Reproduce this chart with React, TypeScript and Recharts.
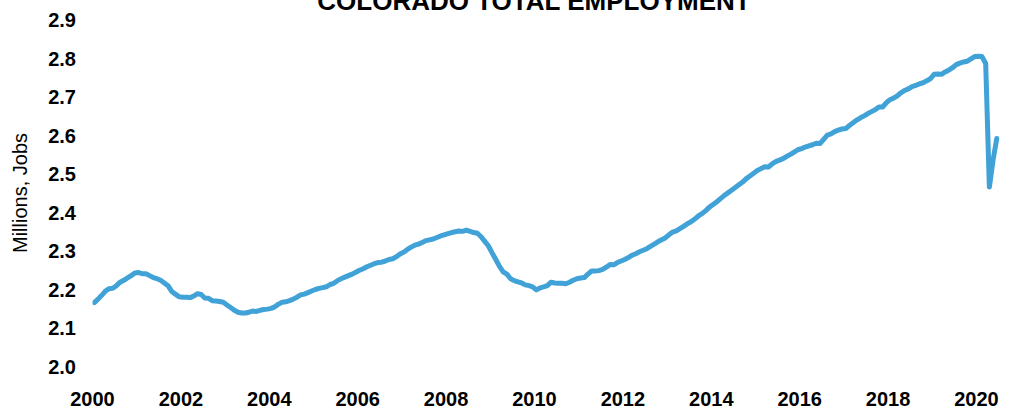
import { LineChart, Line, XAxis, YAxis } from "recharts"

// Colorado total nonfarm employment, millions, monthly Jan 2000 - Jun 2020
const employment = [
  // 2000
  2.166, 2.175, 2.185, 2.196, 2.202, 2.203, 2.21, 2.219, 2.224, 2.23, 2.236, 2.243,
  // 2001
  2.244, 2.241, 2.241, 2.236, 2.231, 2.228, 2.224, 2.217, 2.21, 2.195, 2.188, 2.181,
  // 2002
  2.18, 2.18, 2.179, 2.183, 2.189, 2.187, 2.178, 2.177, 2.171, 2.17, 2.169, 2.167,
  // 2003
  2.16, 2.153, 2.146, 2.141, 2.139, 2.139, 2.141, 2.144, 2.143, 2.146, 2.148, 2.149,
  // 2004
  2.151, 2.155, 2.162, 2.167, 2.168, 2.171, 2.175, 2.18, 2.186, 2.188, 2.192, 2.196,
  // 2005
  2.2, 2.203, 2.205, 2.207, 2.213, 2.216, 2.223, 2.228, 2.232, 2.236, 2.24, 2.245,
  // 2006
  2.25, 2.254, 2.259, 2.263, 2.267, 2.27, 2.271, 2.274, 2.278, 2.28, 2.285, 2.292,
  // 2007
  2.297, 2.304, 2.31, 2.315, 2.318, 2.322, 2.327, 2.329, 2.331, 2.335, 2.339, 2.342,
  // 2008
  2.345, 2.348, 2.35, 2.352, 2.351, 2.354, 2.351, 2.348, 2.346, 2.337, 2.325, 2.313,
  // 2009
  2.295, 2.278, 2.26, 2.246, 2.24, 2.228, 2.223, 2.22, 2.217, 2.212, 2.21, 2.207,
  // 2010
  2.199, 2.204, 2.207, 2.21, 2.219, 2.217, 2.216, 2.216, 2.215, 2.219, 2.224, 2.228,
  // 2011
  2.23, 2.231, 2.24, 2.248, 2.248, 2.249, 2.252, 2.258, 2.265, 2.264, 2.27, 2.274,
  // 2012
  2.278, 2.283, 2.289, 2.293, 2.298, 2.302, 2.306, 2.312, 2.318, 2.324, 2.329, 2.334,
  // 2013
  2.342, 2.349, 2.352, 2.358, 2.364, 2.371, 2.376, 2.383, 2.391, 2.397, 2.405, 2.414,
  // 2014
  2.421, 2.428, 2.436, 2.444, 2.451, 2.458, 2.465, 2.472, 2.479, 2.488, 2.495, 2.502,
  // 2015
  2.509, 2.514, 2.519, 2.518, 2.526, 2.532, 2.536, 2.54, 2.546, 2.551, 2.557, 2.563,
  // 2016
  2.566, 2.57, 2.573, 2.576, 2.58, 2.579, 2.59, 2.601, 2.604, 2.61, 2.614, 2.617,
  // 2017
  2.618, 2.626, 2.633, 2.64, 2.646, 2.651, 2.657, 2.662, 2.667, 2.674, 2.674, 2.685,
  // 2018
  2.693, 2.697, 2.703, 2.711, 2.717, 2.721, 2.727, 2.73, 2.734, 2.737, 2.742, 2.748,
  // 2019
  2.759, 2.76, 2.759, 2.765, 2.77, 2.776, 2.784, 2.788, 2.791, 2.793, 2.799, 2.805,
  // 2020
  2.806, 2.805, 2.787, 2.466, 2.536, 2.592,
]

const startYear = 2000
const yearTicks = [2000, 2002, 2004, 2006, 2008, 2010, 2012, 2014, 2016, 2018, 2020]
const valueTicks = [2.0, 2.1, 2.2, 2.3, 2.4, 2.5, 2.6, 2.7, 2.8, 2.9]

// month index -> fractional year (mid-month)
const chartData = employment.map((v, i) => ({
  date: startYear + (i + 0.5) / 12,
  value: v,
}))

const FONT = "'Liberation Sans', Arial, Helvetica, sans-serif"
const tickStyle = { fill: "#000", fontSize: 20, fontWeight: 700, fontFamily: FONT }

export default function App() {
  return (
    <div style={{ position: "relative", width: 1012, height: 410, background: "#fff" }}>
      <style>{`body { margin: 0; }`}</style>
      <LineChart
        width={1012}
        height={410}
        data={chartData}
        margin={{ top: 20, right: 9, left: 0, bottom: 0 }}
      >
        <XAxis
          dataKey="date"
          type="number"
          domain={[2000, 2020.6]}
          ticks={yearTicks}
          allowDataOverflow
          axisLine={false}
          tickLine={false}
          tickSize={0}
          tickMargin={25}
          height={43.5}
          tick={tickStyle}
          interval={0}
        />
        <YAxis
          type="number"
          domain={[2.0, 2.9]}
          ticks={valueTicks}
          allowDataOverflow
          axisLine={false}
          tickLine={false}
          tickSize={0}
          tickMargin={16.5}
          width={92.5}
          tick={tickStyle}
          tickFormatter={(v: number) => v.toFixed(1)}
          interval={0}
        />
        <Line
          type="linear"
          dataKey="value"
          stroke="#41a2d7"
          strokeWidth={5}
          strokeLinecap="round"
          strokeLinejoin="round"
          dot={false}
          activeDot={false}
          isAnimationActive={false}
        />
      </LineChart>

      {/* title (clipped at top like the source) and axis title */}
      <svg
        width={1012}
        height={410}
        style={{ position: "absolute", left: 0, top: 0, pointerEvents: "none" }}
      >
        <text
          x={534}
          y={10}
          textAnchor="middle"
          fontFamily={FONT}
          fontSize={26}
          fontWeight={700}
          fill="#000"
        >
          COLORADO TOTAL EMPLOYMENT
        </text>
        <text
          transform="translate(20,193) rotate(-90)"
          textAnchor="middle"
          dominantBaseline="central"
          fontFamily={FONT}
          fontSize={20}
          fill="#000"
        >
          Millions, Jobs
        </text>
      </svg>
    </div>
  )
}
